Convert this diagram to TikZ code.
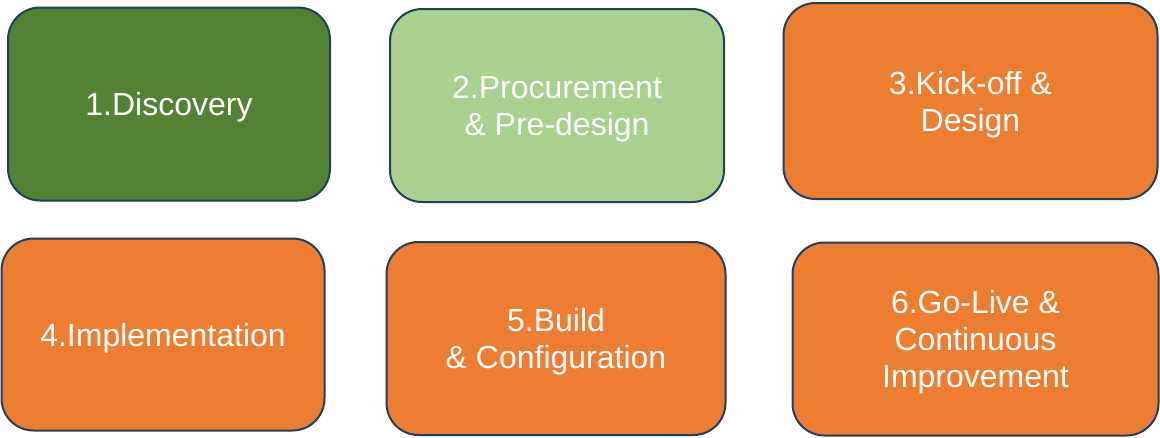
\documentclass[tikz,border=0pt]{standalone}
\usepackage{fontspec}
\setmainfont{Liberation Sans}
\definecolor{edge}{HTML}{203E5F}
\definecolor{dgreen}{HTML}{548235}
\definecolor{lgreen}{HTML}{A9D18E}
\definecolor{orng}{HTML}{ED7D31}
\begin{document}
\begin{tikzpicture}[x=1pt,y=-1pt,
  phase/.style={draw=edge, line width=2pt, rounded corners=32pt, inner sep=0pt},
  phasetext/.style={text=white, align=center, inner sep=0pt, yshift=-3.5pt,
    font=\fontsize{32}{37}\selectfont},
]
\useasboundingbox (0,0) rectangle (1160,437);
\node[phase, fill=dgreen, minimum width=322pt, minimum height=193pt,
  label={[phasetext]center:1.Discovery}] (b1) at (169,104) {};
\node[phase, fill=lgreen, minimum width=334pt, minimum height=193pt,
  label={[phasetext]center:{2.Procurement\\\& Pre-design}}] (b2) at (557,105.5) {};
\node[phase, fill=orng, minimum width=374pt, minimum height=196pt,
  label={[phasetext]center:{3.Kick-off \&\\Design}}] (b3) at (970.5,101) {};
\node[phase, fill=orng, minimum width=323pt, minimum height=192pt,
  label={[phasetext]center:4.Implementation}] (b4) at (163,334.5) {};
\node[phase, fill=orng, minimum width=339pt, minimum height=193pt,
  label={[phasetext]center:{5.Build\\\& Configuration}}] (b5) at (556,338.5) {};
\node[phase, fill=orng, minimum width=366pt, minimum height=193pt,
  label={[phasetext]center:{6.Go-Live \&\\Continuous\\Improvement}}] (b6) at (975.5,339) {};
\end{tikzpicture}
\end{document}
